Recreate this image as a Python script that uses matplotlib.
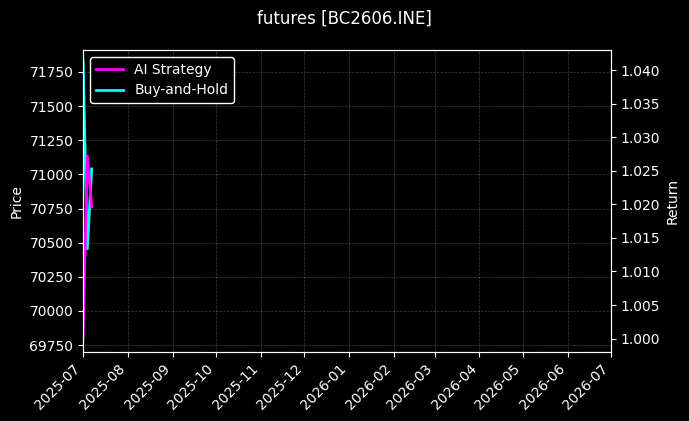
import matplotlib
matplotlib.use("Agg")
import matplotlib.pyplot as plt
import matplotlib.dates as mdates
import pandas as pd

plt.style.use("dark_background")

title = "futures [BC2606.INE]"
dates = pd.to_datetime(["2025-07-01", "2025-07-04", "2025-07-07"])
ai_strategy = [1.000, 1.0272, 1.0196]
buy_hold_price = [71835, 70455, 71040]
x_start, x_end = pd.Timestamp("2025-07-01"), pd.Timestamp("2026-07-01")

fig = plt.figure(figsize=(6.89, 4.21), dpi=100)
ax1 = fig.add_axes([0.1205, 0.1639, 0.7663, 0.7173])
ax2 = ax1.twinx()

l2, = ax1.plot(dates, buy_hold_price, color="cyan", linewidth=2, label="Buy-and-Hold")
l1, = ax2.plot(dates, ai_strategy, color="magenta", linewidth=2, label="AI Strategy")

ax1.set_xlim(x_start, x_end)
ax1.set_ylim(69699, 71911)
ax2.set_ylim(0.998, 1.043)
ax1.set_yticks(range(69750, 71751, 250))
ax2.set_yticks([1.000 + 0.005 * i for i in range(9)])
ax2.yaxis.set_major_formatter(matplotlib.ticker.FormatStrFormatter("%.3f"))

ax1.xaxis.set_major_locator(mdates.MonthLocator())
ax1.xaxis.set_major_formatter(mdates.DateFormatter("%Y-%m"))
for lab in ax1.get_xticklabels():
    lab.set_rotation(45)
    lab.set_ha("right")

ax1.set_ylabel("Price")
ax2.set_ylabel("Return")
ax1.grid(True, linestyle="--", linewidth=0.5, color="gray", alpha=0.5)

leg = ax2.legend(handles=[l1, l2], loc="upper left", facecolor="black", edgecolor="white", framealpha=1)

fig.suptitle(title, fontsize=12, y=0.977)
fig.savefig("out.png", dpi=100)
